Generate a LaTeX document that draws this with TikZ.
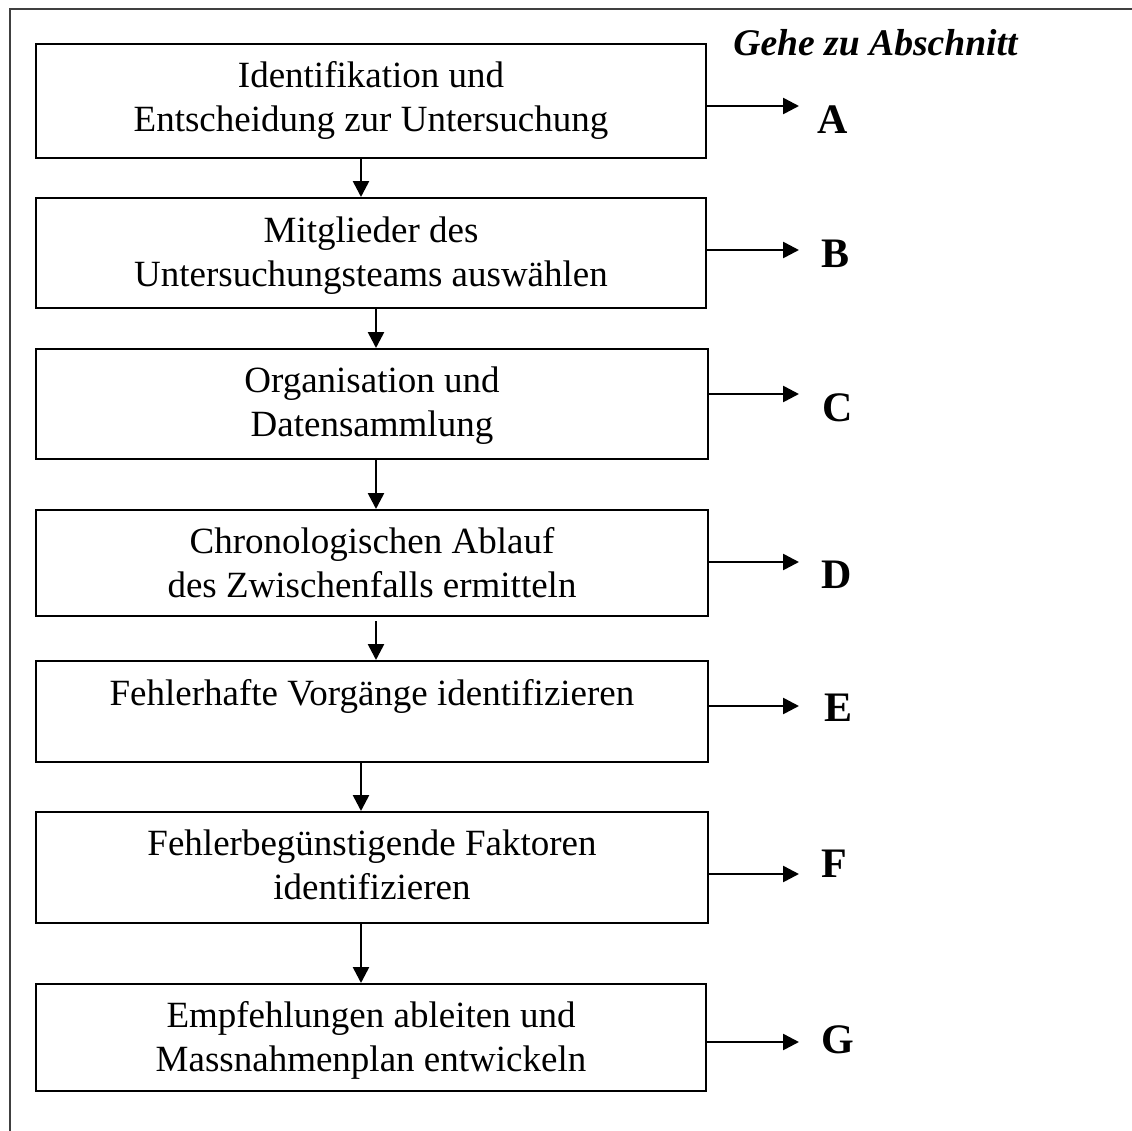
\documentclass[tikz,border=0pt]{standalone}
\usepackage{fontspec}
\setmainfont{Liberation Serif}
\usetikzlibrary{arrows.meta}
\begin{document}
\begin{tikzpicture}[x=0.5pt,y=-0.5pt,
  box/.style={draw, line width=1pt, rectangle, anchor=north west, inner sep=0pt},
  txt/.style={anchor=base, inner sep=0pt, font=\fontsize{18.5}{22}\selectfont},
  lett/.style={anchor=base west, inner sep=0pt, font=\fontsize{21}{25}\selectfont\bfseries},
  arr/.style={line width=1.3pt, -{Triangle[length=8pt,width=8pt]}},
  frame/.style={line width=0.9pt, black!75}
]
\clip (0,0) rectangle (1132,1131);
\fill[white] (0,0) rectangle (1132,1131);
\draw[frame] (10,1200) -- (10,9) -- (1200,9);

% boxes
\node[box, minimum width=335pt, minimum height=57pt]   (b1) at (35,43)  {};
\node[box, minimum width=335pt, minimum height=55pt]   (b2) at (35,197) {};
\node[box, minimum width=336pt, minimum height=55pt]   (b3) at (35,348) {};
\node[box, minimum width=336pt, minimum height=53pt]   (b4) at (35,509) {};
\node[box, minimum width=336pt, minimum height=50.5pt] (b5) at (35,660) {};
\node[box, minimum width=336pt, minimum height=55.5pt] (b6) at (35,811) {};
\node[box, minimum width=335pt, minimum height=53.5pt] (b7) at (35,983) {};

% texts
\node[txt] (t1) at ([yshift=-22pt]b1.north) {\begin{tabular}[t]{@{}c@{}}Identifikation und\\Entscheidung zur Untersuchung\end{tabular}};
\node[txt] (t2) at ([yshift=-22.5pt]b2.north) {\begin{tabular}[t]{@{}c@{}}Mitglieder des\\Untersuchungsteams auswählen\end{tabular}};
\node[txt] (t3) at ([yshift=-22pt]b3.north) {\begin{tabular}[t]{@{}c@{}}Organisation und\\Datensammlung\end{tabular}};
\node[txt] (t4) at ([yshift=-22pt]b4.north) {\begin{tabular}[t]{@{}c@{}}Chronologischen Ablauf\\des Zwischenfalls ermitteln\end{tabular}};
\node[txt] (t5) at ([yshift=-22.5pt]b5.north) {Fehlerhafte Vorgänge identifizieren};
\node[txt] (t6) at ([yshift=-22pt]b6.north) {\begin{tabular}[t]{@{}c@{}}Fehlerbegünstigende Faktoren\\identifizieren\end{tabular}};
\node[txt] (t7) at ([yshift=-22pt]b7.north) {\begin{tabular}[t]{@{}c@{}}Empfehlungen ableiten und\\Massnahmenplan entwickeln\end{tabular}};

% heading
\node[anchor=base west, inner sep=0pt, font=\fontsize{18.8}{22}\selectfont\bfseries\itshape] (head) at (733,55) {Gehe zu Abschnitt};

% vertical connectors
\coordinate (xa) at (361,0);
\coordinate (xb) at (376,0);
\draw[arr] (b1.south -| xa) -- (b2.north -| xa);
\draw[arr] (b2.south -| xb) -- (b3.north -| xb);
\draw[arr] (b3.south -| xb) -- (b4.north -| xb);
\draw[arr, shorten <=2pt] (b4.south -| xb) -- (b5.north -| xb);
\draw[arr] (b5.south -| xa) -- (b6.north -| xa);
\draw[arr] (b6.south -| xa) -- (b7.north -| xa);

% right arrows
\coordinate (eA) at (799,106);
\coordinate (eB) at (799,250);
\coordinate (eC) at (799,394);
\coordinate (eD) at (799,562);
\coordinate (eE) at (799,706);
\coordinate (eF) at (799,874);
\coordinate (eG) at (799,1042);
\draw[arr] (b1.east |- eA) -- (eA);
\draw[arr] (b2.east |- eB) -- (eB);
\draw[arr] (b3.east |- eC) -- (eC);
\draw[arr] (b4.east |- eD) -- (eD);
\draw[arr] (b5.east |- eE) -- (eE);
\draw[arr] (b6.east |- eF) -- (eF);
\draw[arr] (b7.east |- eG) -- (eG);

% letters
\node[lett] (lA) at (817,133)  {A};
\node[lett] (lB) at (821,267)  {B};
\node[lett] (lC) at (822,421)  {C};
\node[lett] (lD) at (821,588)  {D};
\node[lett] (lE) at (824,721)  {E};
\node[lett] (lF) at (821,877)  {F};
\node[lett] (lG) at (821,1053) {G};
\end{tikzpicture}
\end{document}
